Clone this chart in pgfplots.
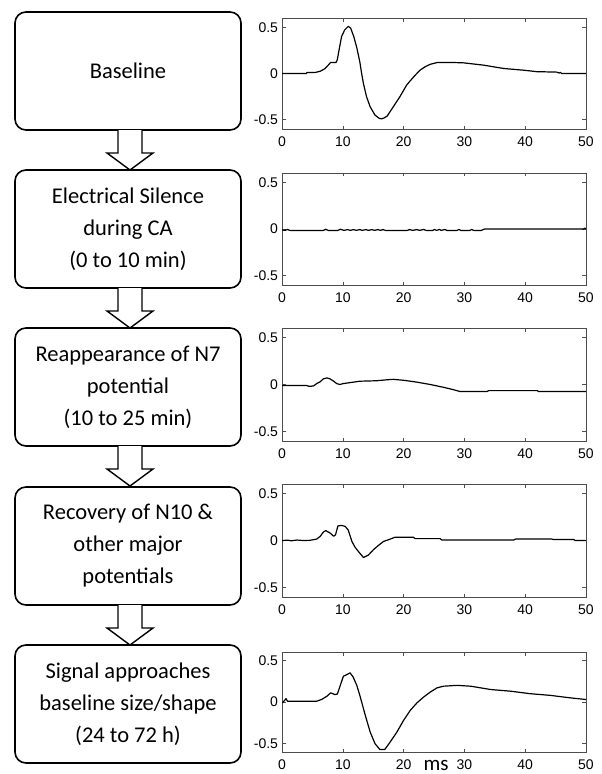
\documentclass[border=0pt]{standalone}
\usepackage{fontspec}
\setmainfont{Carlito}
\newfontfamily\tickfont{Liberation Sans}
\usepackage{pgfplots}
\pgfplotsset{compat=1.18}

\pgfplotsset{
  ep/.style={
    scale only axis, width=304pt, anchor=south west,
    xmin=0, xmax=50, ymin=-0.6, ymax=0.6,
    xtick={0,10,20,30,40,50}, xticklabels={0,10,20,30,40,50},
    ytick={-0.5,0,0.5}, yticklabels={-0.5,0,0.5},
    xtick pos=both, ytick pos=both,
    tick align=inside, major tick length=3.5pt,
    axis line style={draw=black!70, line width=0.7pt},
    tick style={draw=black!70, line width=0.6pt},
    ticklabel style={font=\tickfont\fontsize{14}{14}\selectfont},
    xticklabel style={yshift=-4pt},
    yticklabel style={xshift=-0.5pt},
  },
  trace/.style={draw=black, line width=1.2pt, mark=none, line join=round},
}
\tikzset{box/.style={draw=black, line width=1.6pt, rounded corners=11pt}}

\begin{document}
\begin{tikzpicture}
\useasboundingbox (0pt,0pt) rectangle (602pt,-774pt);

% flow boxes
\foreach \tp/\txt in {12/{Baseline},
                     170/{Electrical Silence\\during CA\\(0 to 10 min)},
                     328/{Reappearance of N7\\potential\\(10 to 25 min)},
                     487/{Recovery of N10 \&\\other major\\potentials},
                     645/{Signal approaches\\baseline size/shape\\(24 to 72 h)}} {
  \draw[box] (15pt,-\tp pt) rectangle (241pt,-\tp pt-118pt);
  \node[align=center, font=\fontsize{22.5}{32}\selectfont, inner sep=0pt]
    at (128pt,-\tp pt-59pt) {\txt};
}
% arrows between boxes
\foreach \b in {130,288,446,605} {
  \draw[line width=1.4pt, fill=white, line join=miter]
    (118pt,-\b pt) -- (118pt,-\b pt-23pt) -- (107pt,-\b pt-23pt) -- (130pt,-\b pt-40pt)
    -- (153pt,-\b pt-23pt) -- (142pt,-\b pt-23pt) -- (142pt,-\b pt);
}

% 1 baseline
\begin{axis}[ep, height=111pt, at={(282pt,-129pt)}]
\addplot[trace] coordinates {(0,0) (4,0) (4.1,0.01) (5.5,0.012) (6.3,0.025) (7,0.05) (7.6,0.09)
 (8,0.12) (8.9,0.12) (9.1,0.15) (9.4,0.26) (9.8,0.4) (10.3,0.47) (10.9,0.51) (11.3,0.49)
 (11.8,0.4) (12.3,0.28) (12.8,0.125) (13.1,0) (13.4,-0.11) (13.9,-0.25) (14.5,-0.36)
 (15.3,-0.45) (16.0,-0.485) (16.4,-0.49) (16.8,-0.48) (17.3,-0.46) (18.3,-0.36) (19.4,-0.25)
 (20.5,-0.125) (21.6,-0.04) (22.7,0.036) (23.6,0.075) (24.4,0.1) (25.5,0.118) (27.7,0.12)
 (29.9,0.115) (33.2,0.09) (36.5,0.054) (39.7,0.036) (41.9,0.02) (45.2,0.015) (45.6,0.005)
 (45.8,0.012) (46,0) (50,0)};
\end{axis}

% 2 electrical silence
\begin{axis}[ep, height=112pt, at={(282pt,-285pt)}]
\addplot[trace] coordinates {(0,-0.01) (0.5,-0.015) (0.9,-0.005) (1.3,-0.015) (6.8,-0.015) (7.2,-0.003)
 (7.6,-0.015) (9.2,-0.015) (9.6,-0.003) (10.2,-0.015) (10.8,-0.006) (11.2,-0.015) (11.8,-0.006)
 (12.2,-0.015) (12.8,-0.006) (13.2,-0.015) (13.8,-0.006) (14.2,-0.015) (14.8,-0.006) (15.2,-0.015)
 (15.8,-0.006) (16.2,-0.015) (16.6,-0.006) (17,-0.015) (20.6,-0.015) (21,-0.006) (21.5,-0.015)
 (22.2,-0.006) (22.6,-0.015) (23.3,-0.005) (23.7,-0.015) (24.8,-0.015) (25.1,-0.005) (25.4,-0.015)
 (25.9,-0.005) (26.2,-0.015) (26.8,-0.005) (27.1,-0.015) (28.8,-0.015) (29.1,-0.005) (29.4,-0.015)
 (30.9,-0.015) (31.2,-0.005) (31.5,-0.015) (32.8,-0.015) (33.1,-0.005) (33.4,0) (49.6,0)
 (49.8,0.01) (50,0)};
\end{axis}

% 3 reappearance of N7
\begin{axis}[ep, height=113pt, at={(282pt,-441pt)}]
\addplot[trace] coordinates {(0,-0.01) (4,-0.01) (4.5,-0.02) (5.2,-0.015) (5.7,0.01) (6.3,0.03)
 (6.8,0.06) (7.4,0.07) (7.9,0.06) (8.5,0.035) (9,0.01) (9.5,0) (10.1,0.01) (11.2,0.02)
 (12.8,0.035) (15.6,0.04) (17.2,0.05) (18.3,0.055) (20,0.045) (22.2,0.025) (24.4,0)
 (26.6,-0.03) (28.2,-0.055) (29.3,-0.075) (33.7,-0.075) (34,-0.065) (42,-0.065)
 (42.2,-0.075) (50,-0.075)};
\end{axis}

% 4 recovery of N10
\begin{axis}[ep, height=113pt, at={(282pt,-597pt)}]
\addplot[trace] coordinates {(0,0) (1,0.004) (1.5,-0.003) (2.5,0.005) (3.5,0) (4.6,0.002) (5.7,0.015)
 (6.3,0.045) (6.8,0.09) (7.2,0.105) (7.9,0.08) (8.5,0.045) (8.8,0.06) (9.2,0.155) (9.8,0.16)
 (10.4,0.15) (10.9,0.11) (11.5,-0.01) (12,-0.07) (12.8,-0.135) (13.4,-0.18) (14.2,-0.155)
 (15,-0.1) (15.9,-0.05) (16.7,-0.01) (17.8,0.015) (18.6,0.035) (21.6,0.035) (21.9,0.02)
 (26,0.02) (26.3,0.005) (38.1,0.005) (38.4,0.015) (44.4,0.015) (44.7,0.01) (48,0.01)
 (48.2,0) (50,0)};
\end{axis}

% 5 approaching baseline
\begin{axis}[ep, height=100pt, at={(282pt,-752pt)}]
\addplot[trace] coordinates {(0,-0.01) (0.2,0) (0.66,0.04) (0.9,0.01) (5.7,0.01) (6.5,0.03) (7.4,0.07)
 (8,0.11) (8.7,0.09) (9.1,0.095) (9.5,0.18) (10.1,0.31) (10.7,0.33) (11.2,0.35) (11.7,0.3)
 (12.3,0.2) (12.8,0.08) (13.7,-0.16) (14.5,-0.36) (15.3,-0.5) (16.1,-0.57) (16.9,-0.57)
 (17.7,-0.49) (18.9,-0.36) (20,-0.22) (21.1,-0.1) (22.2,-0.01) (23.3,0.06) (24.4,0.12)
 (25.5,0.17) (26.6,0.19) (28.8,0.2) (31,0.19) (34.3,0.15) (37.6,0.13) (40.8,0.1)
 (44.1,0.08) (47.4,0.05) (50,0.03)};
\end{axis}

\node[anchor=base, font=\fontsize{21}{21}\selectfont, inner sep=0pt] at (436pt,-770pt) {ms};
\end{tikzpicture}
\end{document}
